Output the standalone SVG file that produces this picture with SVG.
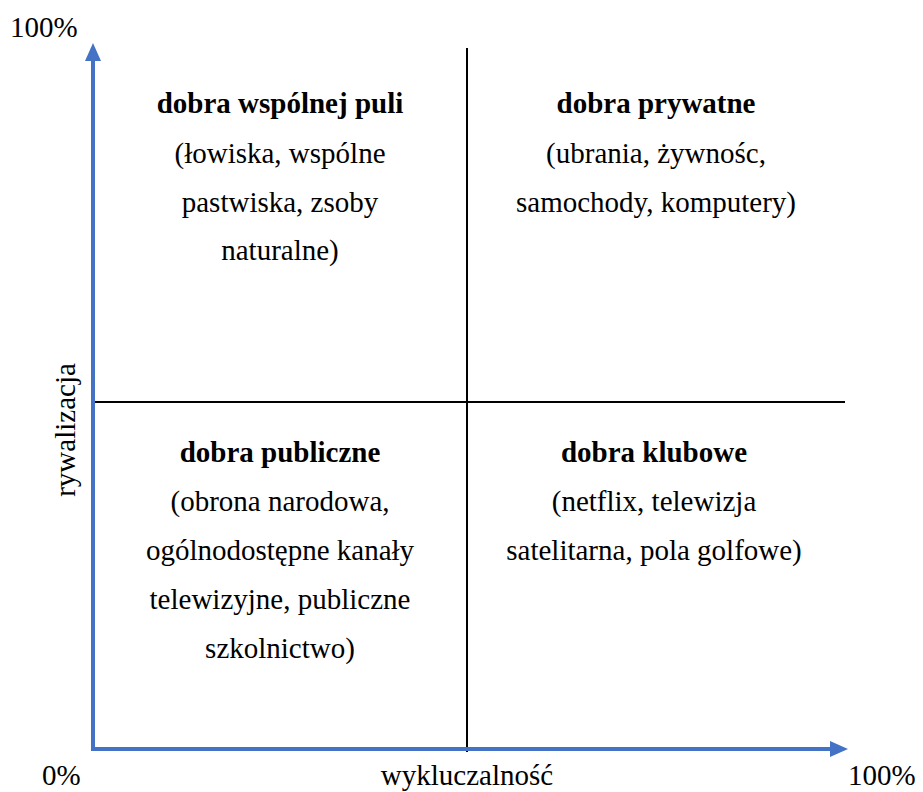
<svg xmlns="http://www.w3.org/2000/svg" width="923" height="792" viewBox="0 0 923 792" font-family="Liberation Serif, serif">
<style>
text{font-size:29px;fill:#000;font-family:"Liberation Serif","Times New Roman",serif}
.b{font-weight:bold}
.c{text-anchor:middle}
.grid{stroke:#000;stroke-width:2;fill:none}
.axis{stroke:#4472C4;stroke-width:4;fill:none}
</style>
<g id="connectors">
<line class="grid" x1="467" y1="48" x2="467" y2="752"/>
<line class="grid" x1="93" y1="402" x2="845" y2="402"/>
<polyline class="axis" points="93,61 93,749 830,749"/>
<path d="M85,61 L93,43 L101,61 z" fill="#4472C4"/>
<path d="M830,741 L848,749 L830,757 z" fill="#4472C4"/>
</g>
<g id="common-pool">
<text class="c"><tspan class="b" x="280" y="113">dobra wspólnej puli</tspan><tspan x="280" y="163">(łowiska, wspólne</tspan><tspan x="280" y="212">pastwiska, zsoby</tspan><tspan x="280" y="260">naturalne)</tspan></text>
</g>
<g id="private">
<text class="c"><tspan class="b" x="656" y="113">dobra prywatne</tspan><tspan x="656" y="163">(ubrania, żywnośc,</tspan><tspan x="656" y="212">samochody, komputery)</tspan></text>
</g>
<g id="public">
<text class="c"><tspan class="b" x="280" y="462">dobra publiczne</tspan><tspan x="280" y="511">(obrona narodowa,</tspan><tspan x="280" y="560">ogólnodostępne kanały</tspan><tspan x="280" y="609">telewizyjne, publiczne</tspan><tspan x="280" y="658">szkolnictwo)</tspan></text>
</g>
<g id="club">
<text class="c"><tspan class="b" x="654" y="462">dobra klubowe</tspan><tspan x="654" y="511">(netflix, telewizja</tspan><tspan x="654" y="560">satelitarna, pola golfowe)</tspan></text>
</g>
<g id="labels">
<text x="10" y="37">100%</text>
<text x="42" y="785">0%</text>
<text x="848" y="785">100%</text>
<text class="c" x="467" y="785">wykluczalność</text>
<text class="c" transform="translate(75,430) rotate(-90)">rywalizacja</text>
</g>
</svg>
